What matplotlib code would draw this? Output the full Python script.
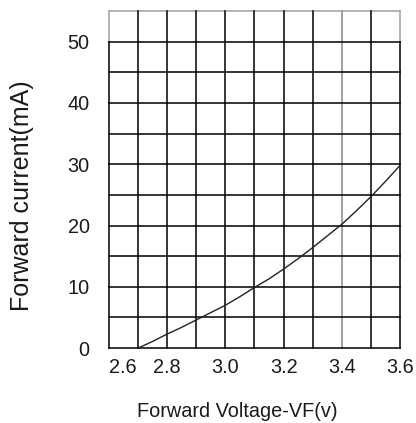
import matplotlib
matplotlib.use("Agg")
import matplotlib.pyplot as plt

plt.rcParams['font.family'] = ['Liberation Sans', 'DejaVu Sans']

# forward voltage (V) vs forward current (mA)
vf = [2.70, 2.75, 2.80, 2.85, 2.90, 2.95, 3.00, 3.05, 3.10, 3.15,
      3.20, 3.25, 3.30, 3.35, 3.40, 3.45, 3.50, 3.55, 3.60]
if_ma = [0.0, 1.1, 2.3, 3.4, 4.6, 5.8, 7.0, 8.4, 9.9, 11.3,
         12.9, 14.6, 16.4, 18.3, 20.2, 22.4, 24.7, 27.2, 29.8]

x_ticks = [2.6, 2.8, 3.0, 3.2, 3.4, 3.6]
x_labels = ['2.6', '2.8', '3.0', '3.2', '3.4', '3.6']
y_ticks = [0, 10, 20, 30, 40, 50]
y_labels = ['0', '10', '20', '30', '40', '50']

x_grid = [2.6, 2.7, 2.8, 2.9, 3.0, 3.1, 3.2, 3.3, 3.4, 3.5, 3.6]
y_grid = [0, 5, 10, 15, 20, 25, 30, 35, 40, 45, 50]

fig = plt.figure(figsize=(4.16, 4.23), dpi=100)
ax = fig.add_axes([0.262, 0.177, 0.6995, 0.797])
ax.set_xlim(2.6, 3.6)
ax.set_ylim(0, 55)
for s in ax.spines.values():
    s.set_visible(False)

gray = '#a0a0a0'
lw = 1.1
# horizontal grid lines
for y in y_grid:
    ax.plot([2.6, 3.6], [y, y], color='black', lw=lw, clip_on=False, zorder=2)
ax.plot([2.6, 3.6], [55, 55], color=gray, lw=lw, clip_on=False, zorder=1)

# vertical grid lines
for x in x_grid:
    if abs(x - 3.4) < 1e-9:
        ax.plot([x, x], [0, 55], color=gray, lw=lw + 0.3, clip_on=False, zorder=1)
    elif abs(x - 2.6) < 1e-9 or abs(x - 3.6) < 1e-9:
        ax.plot([x, x], [0, 50], color='black', lw=lw, clip_on=False, zorder=2)
        ax.plot([x, x], [50, 55], color=gray, lw=lw, clip_on=False, zorder=1)
    else:
        ax.plot([x, x], [0, 55], color='black', lw=lw, clip_on=False, zorder=2)

# IV curve
ax.plot(vf, if_ma, color='#222222', lw=1.0, zorder=3)

txt = '#1a1a1a'
ax.set_xticks(x_ticks)
ax.set_xticklabels(x_labels, fontsize=14.3, color=txt)
ax.set_yticks(y_ticks)
ax.set_yticklabels(y_labels, fontsize=14.3, color=txt)
ax.tick_params(axis='x', length=0, pad=7)
ax.tick_params(axis='y', length=0, pad=14)
ax.get_xticklabels()[0].set_horizontalalignment('left')
ax.get_xticklabels()[0].set_x(2.6)

fig.text(0.57, 0.028, 'Forward Voltage-VF(v)', fontsize=14.3, color=txt,
         ha='center', va='center')
fig.text(0.053, 0.537, 'Forward current(mA)', fontsize=18, color=txt,
         ha='center', va='center', rotation=90)

fig.savefig('out.png', dpi=100)
